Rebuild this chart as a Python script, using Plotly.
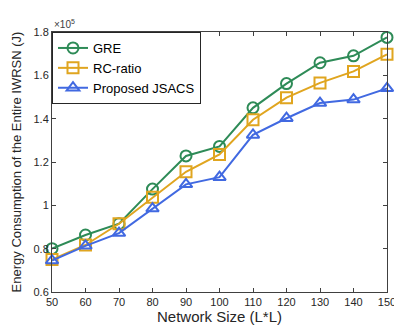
import plotly.graph_objects as go

network_size = [50, 60, 70, 80, 90, 100, 110, 120, 130, 140, 150]
gre = [0.800, 0.863, 0.915, 1.075, 1.228, 1.272, 1.450, 1.562, 1.658, 1.690, 1.775]
rc_ratio = [0.750, 0.817, 0.915, 1.037, 1.155, 1.235, 1.395, 1.497, 1.565, 1.618, 1.697]
jsacs = [0.745, 0.813, 0.872, 0.985, 1.097, 1.130, 1.325, 1.402, 1.472, 1.488, 1.540]
y_ticks = [0.6, 0.8, 1.0, 1.2, 1.4, 1.6, 1.8]
y_ticktext = ["0.6", "0.8", "1", "1.2", "1.4", "1.6", "1.8"]
x_ticks = [50, 60, 70, 80, 90, 100, 110, 120, 130, 140, 150]

font = "Liberation Sans, Arial, Helvetica, sans-serif"

fig = go.Figure()
series = [
    ("GRE", gre, "#2e8b57", "circle-open"),
    ("RC-ratio", rc_ratio, "#e0a51f", "square-open"),
    ("Proposed JSACS", jsacs, "#4169e1", "triangle-up-open"),
]
for name, vals, color, sym in series:
    fig.add_trace(go.Scatter(
        x=network_size, y=vals, name=name, mode="lines+markers",
        line=dict(color=color, width=2),
        marker=dict(symbol=sym, size=11, color=color, line=dict(width=2, color=color)),
        cliponaxis=False,
    ))

axis_common = dict(
    showgrid=False, zeroline=False, showline=True, mirror="ticks",
    linecolor="#404040", linewidth=1, ticks="inside", ticklen=4,
    tickcolor="#404040", tickfont=dict(family=font, size=11, color="#262626"),
    ticklabeloverflow="allow", automargin=False,
)

fig.update_layout(
    width=394, height=328,
    margin=dict(l=52, r=7, t=32, b=36, autoexpand=False),
    paper_bgcolor="white", plot_bgcolor="white",
    font=dict(family=font, color="#262626"),
    xaxis=dict(range=[50, 150], tickvals=x_ticks,
               title=dict(text="Network Size (L*L)", font=dict(size=15, family=font, color="#262626"), standoff=3),
               **axis_common),
    yaxis=dict(range=[0.6, 1.8], tickvals=y_ticks, ticktext=y_ticktext,
               title=dict(text="Energy Consumption of the Entire IWRSN (J)", font=dict(size=13, family=font, color="#262626"), standoff=8),
               **axis_common),
    legend=dict(x=0.0, y=1.0, xanchor="left", yanchor="top",
                bgcolor="white", bordercolor="#262626", borderwidth=1,
                font=dict(family=font, size=13, color="#000000"),
                tracegroupgap=0, itemwidth=30),
    showlegend=True,
)
fig.add_annotation(text="×10<sup>5</sup>", xref="paper", yref="paper", x=0.0, y=1.0,
                   xanchor="left", yanchor="bottom", showarrow=False,
                   font=dict(family=font, size=10, color="#404040"), yshift=0)
fig.write_html("out.html", config={"displayModeBar": False},
               post_script="document.body.style.margin='0';document.body.style.overflow='hidden';")
